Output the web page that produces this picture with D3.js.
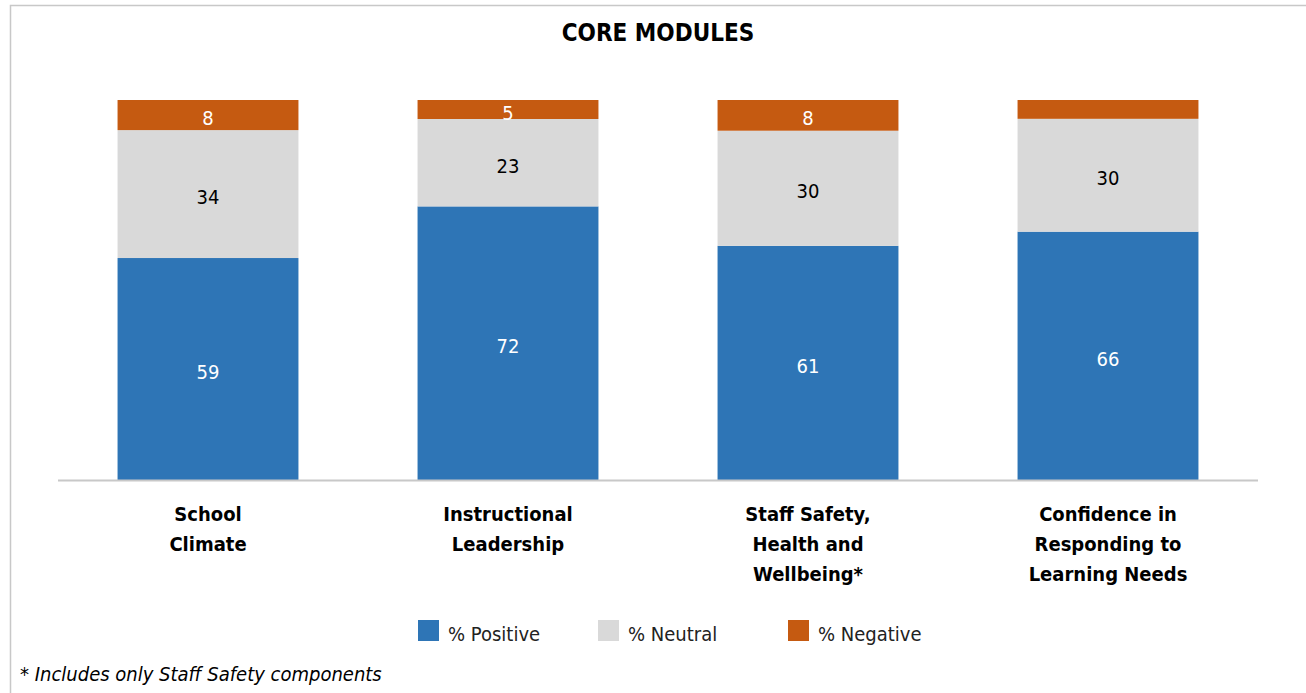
<!DOCTYPE html>
<html>
<head>
<meta charset="utf-8">
<script src="https://cdnjs.cloudflare.com/ajax/libs/d3/7.8.5/d3.min.js"></script>
<style>
  body { margin: 0; background: #fff; }
  text { font-family: "DejaVu Sans Condensed", "DejaVu Sans", sans-serif; }
</style>
</head>
<body>
<div id="chart"></div>
<script>
const categories = [
  ["School", "Climate"],
  ["Instructional", "Leadership"],
  ["Staff Safety,", "Health and", "Wellbeing*"],
  ["Confidence in", "Responding to", "Learning Needs"]
];
const positive = [59, 72, 61, 66];
const neutral = [34, 23, 30, 30];
const negative = [8, 5, 8, 5];
const negativeLabelShown = [true, true, true, false];
const seriesNames = ["% Positive", "% Neutral", "% Negative"];
const colors = ["#2E75B6", "#D9D9D9", "#C55A11"];

const W = 1306, H = 693;
const svg = d3.select("#chart").append("svg").attr("width", W).attr("height", H);

// frame
svg.append("rect").attr("x", 10.5).attr("y", 5.5).attr("width", W + 10).attr("height", H + 10)
  .attr("fill", "none").attr("stroke", "#c8c8c8").attr("stroke-width", 1.5);

svg.append("text").attr("x", 658).attr("y", 41).attr("text-anchor", "middle")
  .style("font-weight", "bold").style("font-size", "24px").text("CORE MODULES");

const rows = categories.map((c, i) => ({
  i, pos: positive[i], neu: neutral[i], neg: negative[i]
}));

const x = d3.scaleBand().domain(d3.range(categories.length)).range([58, 1258]).paddingInner(0.397).paddingOuter(0.1985);
const y = d3.scaleLinear().domain([0, 1]).range([480, 100]);

const keys = ["pos", "neu", "neg"];
const stack = d3.stack().keys(keys).offset(d3.stackOffsetExpand);
const layers = stack(rows);

const g = svg.append("g");
layers.forEach((layer, k) => {
  g.append("g").selectAll("rect").data(layer).enter().append("rect")
    .attr("x", (d, i) => x(i))
    .attr("width", x.bandwidth())
    .attr("y", d => y(d[1]))
    .attr("height", d => y(d[0]) - y(d[1]))
    .attr("fill", colors[k]);

  g.append("g").selectAll("text").data(layer).enter()
    .filter((d, i) => k !== 2 || negativeLabelShown[i])
    .append("text")
    .attr("x", (d, i) => x(i) + x.bandwidth() / 2)
    .attr("y", d => (y(d[0]) + y(d[1])) / 2)
    .attr("dy", "0.5em")
    .attr("text-anchor", "middle")
    .style("font-size", "20px")
    .attr("fill", k === 1 ? "#000" : "#fff")
    .text(d => d.data[keys[k]]);
});

// axis line
svg.append("line").attr("x1", 58).attr("x2", 1258).attr("y1", 480.5).attr("y2", 480.5)
  .attr("stroke", "#c8c8c8").attr("stroke-width", 2);

// category labels
categories.forEach((lines, i) => {
  const cx = x(i) + x.bandwidth() / 2;
  const t = svg.append("text").attr("x", cx).attr("y", 521)
    .attr("text-anchor", "middle").style("font-weight", "bold").style("font-size", "20px");
  lines.forEach((l, j) => t.append("tspan").attr("x", cx).attr("y", 521 + j * 30).text(l));
});

// legend
const legendX = [418, 598, 788];
seriesNames.forEach((n, k) => {
  svg.append("rect").attr("x", legendX[k]).attr("y", 620).attr("width", 21).attr("height", 21).attr("fill", colors[k]);
  svg.append("text").attr("x", legendX[k] + 30).attr("y", 641).style("font-size", "20px").attr("fill", "#222").text(n);
});

svg.append("text").attr("x", 20).attr("y", 681).style("font-size", "20px").style("font-style", "italic")
  .text("* Includes only Staff Safety components");
</script>
</body>
</html>
